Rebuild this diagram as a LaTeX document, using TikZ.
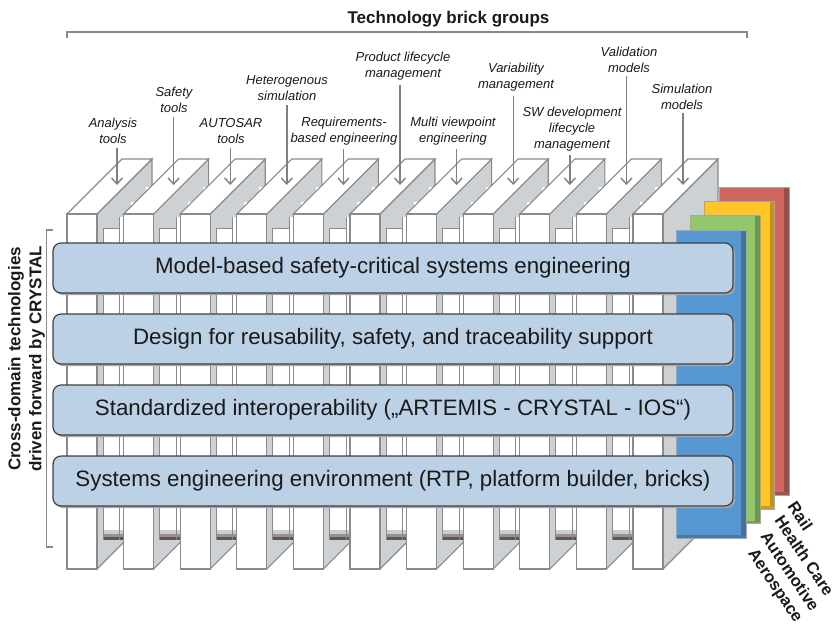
\documentclass[tikz,border=0pt]{standalone}
\usepackage{fontspec}
\setmainfont{Liberation Sans}
\usetikzlibrary{arrows.meta}
\definecolor{bandfill}{RGB}{188,208,230}
\definecolor{bandline}{RGB}{64,64,64}
\definecolor{brickline}{RGB}{138,138,138}
\definecolor{brickside}{RGB}{206,209,212}
\definecolor{arrowgray}{RGB}{128,128,128}
\definecolor{slotdark}{RGB}{95,85,86}
\definecolor{txt}{RGB}{26,26,26}
\definecolor{pblue}{RGB}{88,152,210}
\definecolor{pgreen}{RGB}{146,200,106}
\definecolor{pyellow}{RGB}{255,198,40}
\definecolor{pred}{RGB}{206,103,96}
\tikzset{
  lab/.style={font=\itshape\fontsize{13}{16}\selectfont, align=center, inner sep=1pt, text=txt},
  arr/.style={draw=arrowgray, line width=1.4pt, -{Straight Barb[length=6pt,width=11pt]}, shorten <=3pt},
  band/.style={draw=bandline, line width=1.2pt, fill=bandfill, rounded corners=8pt,
    minimum width=680pt, minimum height=50pt, inner sep=0pt,
    font=\fontsize{22.3}{26}\selectfont, text=txt},
  boldlab/.style={font=\bfseries\fontsize{17}{21}\selectfont, text=txt},
  domlab/.style={font=\bfseries\fontsize{16.5}{20}\selectfont, text=txt, rotate=-56, anchor=north west, inner sep=0pt},
  bracketline/.style={draw=brickline, line width=1.3pt},
  brickedge/.style={draw=brickline, line width=1.1pt},
  panelbox/.style={draw=gray!70, line width=0.8pt},
}
\begin{document}
\begin{tikzpicture}[x=1pt,y=-1pt]
\useasboundingbox (0,0) rectangle (835,625);

% ---------- bricks ----------
\foreach \i in {0,...,10}{
  \pgfmathsetmacro\bx{67+56.6*\i}
  % side face
  \fill[brickside] (\bx+30,214) -- (\bx+85,159) -- (\bx+85,514) -- (\bx+30,569) -- cycle;
  \ifnum\i<10
    % slot
    \fill[white] (\bx+36,228) rectangle (\bx+56,540);
    \fill[white] (\bx+52.5,217) rectangle (\bx+56,228);
    \fill[slotdark!30] (\bx+36,530) rectangle (\bx+56,534);
    \fill[slotdark!65] (\bx+36,534) rectangle (\bx+56,537);
    \fill[slotdark] (\bx+36,537) rectangle (\bx+56,540);
    \draw[brickline, line width=0.8pt] (\bx+36,540) -- (\bx+36,228) -- (\bx+52.5,228);
    \draw[brickline, line width=0.8pt] (\bx+52.5,217) -- (\bx+52.5,540);
    \fill[white] (\bx+64,202) rectangle +(3,3);
    \fill[white] (\bx+79,187) rectangle +(3,3);
  \fi
  \draw[brickedge] (\bx+30,214) -- (\bx+85,159) -- (\bx+85,514) -- (\bx+30,569);
  % top face
  \filldraw[fill=white, brickedge] (\bx,214) -- (\bx+30,214) -- (\bx+85,159) -- (\bx+55,159) -- cycle;
  % front face
  \filldraw[fill=white, brickedge] (\bx,214) rectangle (\bx+30,569);
  \coordinate (t\i) at (\bx+50,185);
}

% ---------- labels and arrows ----------
\node[lab] (l0) at (113,131) {Analysis\\tools};
\node[lab] (l1) at (174,100) {Safety\\tools};
\node[lab] (l2) at (231,131) {AUTOSAR\\tools};
\node[lab] (l3) at (287,88.5) {Heterogenous\\simulation};
\node[lab] (l4) at (344,131) {Requirements-\\based engineering};
\node[lab] (l5) at (403,66.5) {Product lifecycle\\management};
\node[lab] (l6) at (453,131) {Multi viewpoint\\engineering};
\node[lab] (l7) at (516,77.5) {Variability\\management};
\node[lab] (l8) at (572,129) {SW development\\lifecycle\\management};
\node[lab] (l9) at (629,59.5) {Validation\\models};
\node[lab] (l10) at (682,96.5) {Simulation\\models};
\foreach \i in {0,...,10}{
  \draw[arr] (l\i.south -| t\i) -- (t\i);
}

% ---------- domain panels ----------
\foreach \c/\d in {pred/43, pyellow/28.7, pgreen/14.3, pblue/0}{
  \fill[\c] (676+\d,230-\d) rectangle (746+\d,538-\d);
  \fill[\c!75!black] (741+\d,230-\d) rectangle (746+\d,538-\d);
  \fill[\c!80!black] (676+\d,535-\d) rectangle (746+\d,538-\d);
  \draw[panelbox] (676+\d,230-\d) rectangle (746+\d,538-\d);
}

% ---------- bands ----------
\foreach \n/\y in {1/268,2/339,3/410,4/481}{
  \fill[black!35, rounded corners=8pt] (55,\y-23) rectangle (735,\y+27);
}
\node[band] (b1) at (393,268) {Model-based safety-critical systems engineering};
\node[band] (b2) at (393,339) {Design for reusability, safety, and traceability support};
\node[band] (b3) at (393,410) {Standardized interoperability („ARTEMIS - CRYSTAL - IOS“)};
\node[band] (b4) at (393,481) {Systems engineering environment (RTP, platform builder, bricks)};

% ---------- brackets and titles ----------
\draw[bracketline] (67,38) -- (67,32) -- (747,32) -- (747,38);
\node[boldlab] (title) at (448.5,19) {Technology brick groups};
\draw[bracketline] (53,230) -- (46.5,230) -- (46.5,547) -- (53,547);
\node[boldlab, rotate=90, align=center, inner sep=0pt] (side) at (26.5,359)
  {Cross-domain technologies\\driven forward by CRYSTAL};

% ---------- domain names ----------
\node[domlab] (rail) at (797,500) {Rail};
\node[domlab] (health) at (784,514) {Health Care};
\node[domlab] (auto) at (770,530) {Automotive};
\node[domlab] (aero) at (757,547) {Aerospace};
\end{tikzpicture}
\end{document}
